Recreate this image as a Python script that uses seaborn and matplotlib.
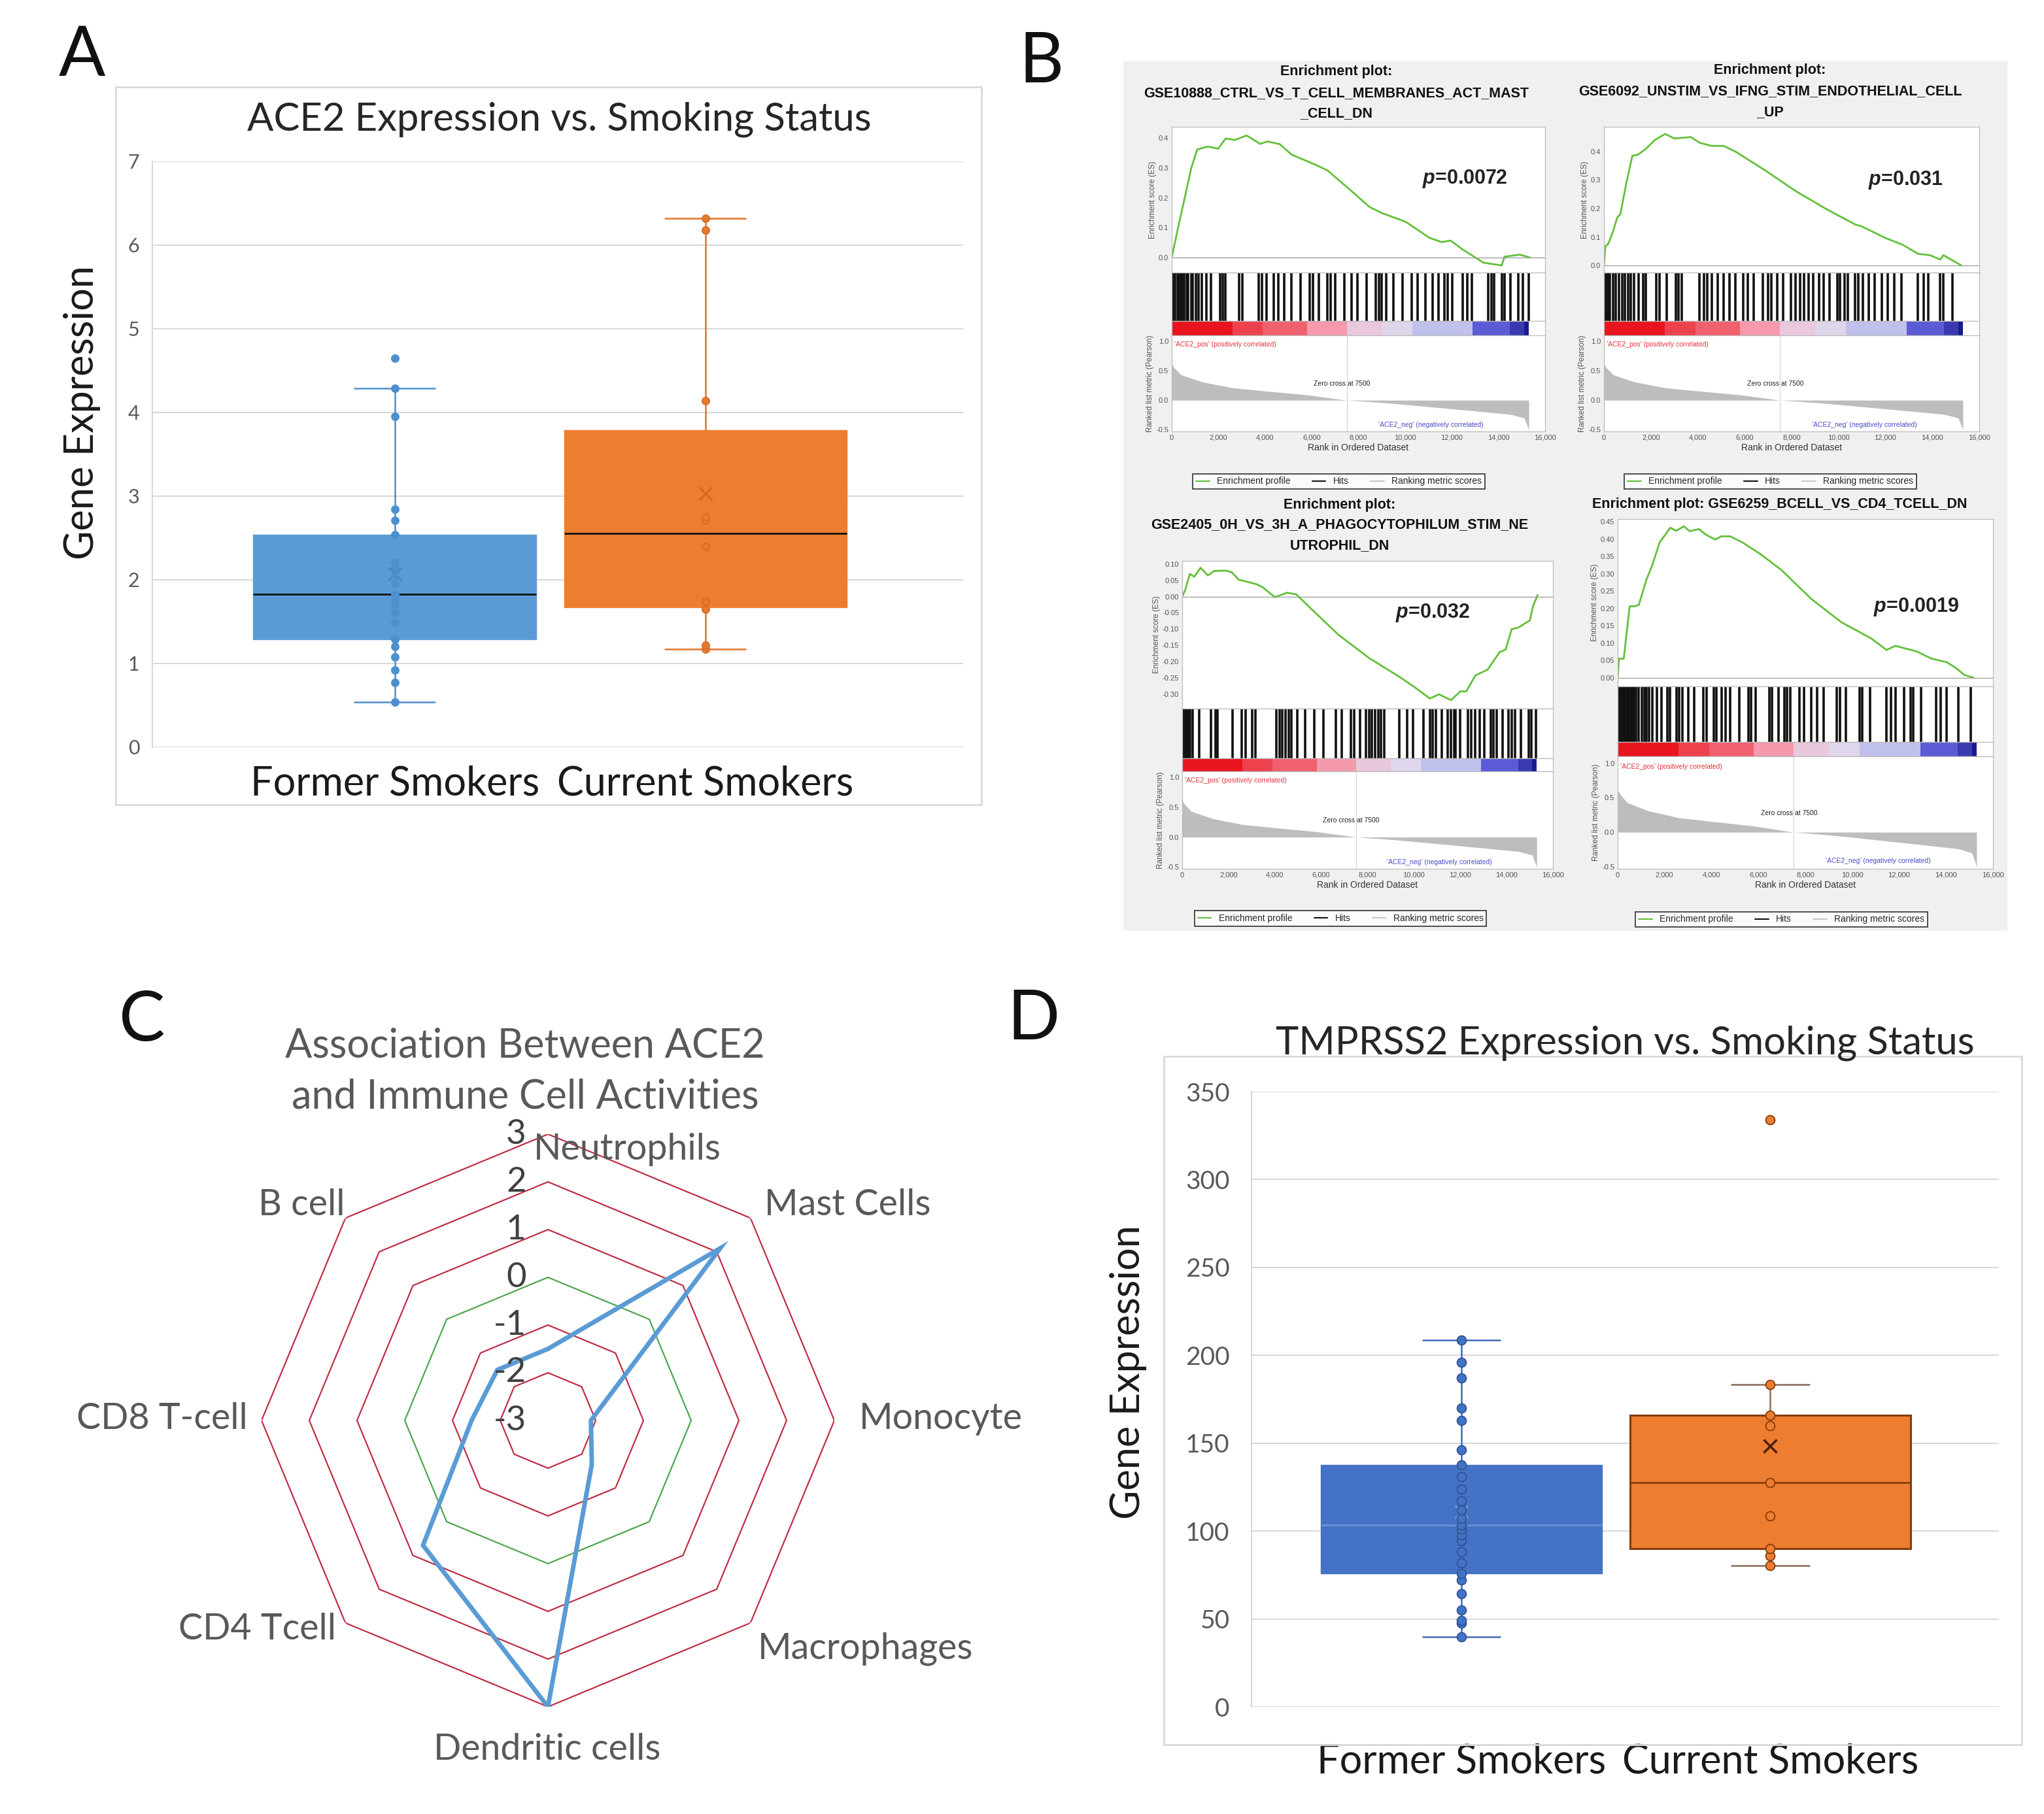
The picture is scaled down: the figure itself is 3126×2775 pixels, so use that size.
import numpy as np
import pandas as pd
import seaborn as sns
import matplotlib.pyplot as plt
from matplotlib.colors import LinearSegmentedColormap, TwoSlopeNorm
from matplotlib.lines import Line2D
from matplotlib.patches import Rectangle
from matplotlib.ticker import StrMethodFormatter

sns.set_theme(style="whitegrid")
plt.rcParams['font.family'] = ['Lato', 'DejaVu Sans']
plt.rcParams['mathtext.fontset'] = 'custom'
plt.rcParams['mathtext.it'] = 'Liberation Sans:italic:bold'
plt.rcParams['mathtext.rm'] = 'Liberation Sans:bold'
plt.rcParams['axes.unicode_minus'] = False

W, H = 3126, 2775

# ---------------- A / D : box plots
groups = ['Former Smokers', 'Current Smokers']
ace2_former = [0.54, 0.77, 0.92, 1.08, 1.2, 1.29, 1.49, 1.61, 1.7, 1.78, 1.83,
               1.95, 2.05, 2.15, 2.2, 2.54, 2.71, 2.84, 3.95, 4.29, 4.65]
ace2_current = [1.17, 1.22, 1.645, 1.74, 2.4, 2.71, 2.75, 4.14, 6.18, 6.32]
ace2_ticks = [0, 1, 2, 3, 4, 5, 6, 7]

tmprss2_former = [39.9, 47.6, 49, 55, 64.5, 72, 75.8, 82, 88, 94.6, 98, 101, 103.5,
                  107, 112, 117, 124, 131, 137.5, 146, 163, 170, 187, 196, 208.8]
tmprss2_current = [80.4, 86, 90, 108.7, 127.4, 160, 166, 183.3, 334]
tmprss2_ticks = [0, 50, 100, 150, 200, 250, 300, 350]

# ---------------- C : radar
cells = ['Neutrophils', 'Mast Cells', 'Monocyte', 'Macrophages',
         'Dendritic cells', 'CD4 Tcell', 'CD8 T-cell', 'B cell']
assoc = [-1.5, 2.1, -2.1, -1.7, 3.0, 0.7, -1.4, -1.5]
radar_levels = [3, 2, 1, 0, -1, -2, -3]

# ---------------- B : GSEA enrichment plots
rank_ticks = [0, 2000, 4000, 6000, 8000, 10000, 12000, 14000, 16000]
metric_rank = [0, 100, 400, 1300, 2600, 3900, 5800, 7500, 9000, 10300, 12900, 14500, 15100, 15300]
metric_val = [0.62, 0.55, 0.43, 0.31, 0.21, 0.16, 0.09, 0.0, -0.04, -0.085, -0.18, -0.24, -0.30, -0.50]
metric_ticks = [1.0, 0.5, 0.0, -0.5]

tl_rank = [0, 260, 510, 840, 1090, 1540, 1990, 2310, 2700, 3210, 3790, 4110, 4630, 5140, 6170,
           6680, 7710, 8480, 9000, 10020, 11050, 11570, 11950, 12470, 13360, 14140, 14260, 14910, 15360]
tl_es = [0, 0.096, 0.183, 0.30, 0.361, 0.371, 0.364, 0.398, 0.393, 0.408, 0.38, 0.388, 0.379, 0.344,
         0.31, 0.291, 0.222, 0.169, 0.149, 0.12, 0.066, 0.052, 0.057, 0.027, -0.017, -0.026, 0.003, 0.01, 0]
tl_hits = [60, 130, 260, 320, 380, 450, 520, 640, 700, 840, 900, 1030, 1150, 1290, 1480, 1670, 2060,
           2190, 2310, 2890, 3020, 3730, 3860, 4050, 4370, 4560, 4820, 5140, 5530, 5910, 6040, 6300,
           6680, 6810, 7000, 7390, 7710, 7970, 8350, 8740, 8870, 9000, 9190, 9510, 9900, 10280, 10540,
           10860, 11180, 11440, 11690, 11820, 12020, 12470, 12660, 12850, 13560, 13690, 13810, 14140,
           14260, 14520, 14840, 15040, 15290]
tl_ticks = [0.0, 0.1, 0.2, 0.3, 0.4]

tr_rank = [0, 60, 190, 380, 570, 700, 960, 1210, 1470, 1790, 2170, 2610, 3000, 3700, 4080, 4590,
           5100, 5610, 6890, 8160, 9440, 10710, 10970, 11990, 12750, 13390, 13900, 14340, 14470, 14920, 15240]
tr_es = [0, 0.067, 0.077, 0.118, 0.169, 0.18, 0.292, 0.385, 0.39, 0.41, 0.441, 0.462, 0.446, 0.451,
         0.431, 0.42, 0.42, 0.40, 0.333, 0.262, 0.20, 0.144, 0.138, 0.097, 0.072, 0.041, 0.036, 0.021,
         0.036, 0.015, 0]
tr_hits = [0, 60, 130, 190, 260, 380, 510, 640, 770, 890, 1020, 1150, 1280, 1470, 1660, 1790, 2230,
           2360, 2680, 3060, 3190, 3320, 4080, 4270, 4400, 4590, 4850, 5100, 5360, 5610, 5930, 6120,
           6380, 6760, 7010, 7140, 7400, 7650, 7970, 8160, 8350, 8540, 8730, 8930, 9180, 9370, 9630,
           9950, 10070, 10260, 10390, 10710, 10840, 11030, 11280, 11540, 11860, 12110, 12370, 12690,
           13390, 13640, 13830, 14340, 14470, 14850]
tr_ticks = [0.0, 0.1, 0.2, 0.3, 0.4]

bl_rank = [0, 130, 330, 520, 790, 1110, 1380, 1900, 2160, 2430, 2950, 3210, 3470, 4000, 4520, 4920,
           5440, 6750, 8060, 9370, 10030, 10690, 11080, 11600, 12000, 12260, 12650, 13180, 13700,
           13960, 14220, 14490, 15010, 15140, 15340]
bl_es = [0, 0.02, 0.07, 0.061, 0.089, 0.065, 0.079, 0.08, 0.074, 0.052, 0.043, 0.038, 0.029, -0.002,
         0.012, 0.007, -0.029, -0.118, -0.189, -0.247, -0.279, -0.314, -0.301, -0.319, -0.292, -0.292,
         -0.243, -0.225, -0.171, -0.163, -0.10, -0.096, -0.073, -0.029, 0.005]
bl_hits = [70, 130, 200, 260, 330, 460, 720, 1250, 1440, 1510, 2160, 2560, 2750, 3020, 3150, 4060,
           4200, 4330, 4460, 4590, 4720, 4980, 5310, 5700, 6100, 6620, 6880, 7280, 7410, 7670, 7930,
           8060, 8190, 8330, 8460, 8590, 8720, 9370, 9700, 9960, 10420, 10690, 10820, 10950, 11210,
           11470, 11600, 11730, 11800, 12000, 12320, 12460, 12650, 12850, 13050, 13310, 13440, 13570,
           13830, 14090, 14220, 14360, 14620, 14950, 15080, 15270]
bl_ticks = [0.10, 0.05, 0.0, -0.05, -0.10, -0.15, -0.20, -0.25, -0.30]

br_rank = [0, 60, 260, 510, 700, 900, 1220, 1470, 1790, 1980, 2240, 2500, 2820, 3070, 3460, 3780,
           4160, 4420, 4800, 5310, 6080, 6980, 8260, 9540, 10820, 11460, 11840, 12740, 13380, 14020,
           14400, 14780, 15170]
br_es = [0, 0.055, 0.055, 0.206, 0.206, 0.21, 0.282, 0.324, 0.391, 0.408, 0.433, 0.424, 0.437, 0.423,
         0.429, 0.412, 0.399, 0.408, 0.408, 0.391, 0.357, 0.311, 0.227, 0.16, 0.113, 0.08, 0.092, 0.076,
         0.055, 0.045, 0.029, 0.008, 0]
br_hits = [0, 60, 130, 190, 260, 320, 380, 450, 510, 580, 640, 700, 770, 900, 1020, 1150, 1220, 1340,
           1470, 1660, 1860, 2110, 2240, 2500, 2620, 2750, 3010, 3260, 3650, 3780, 4100, 4220, 4420,
           4610, 4800, 5180, 5570, 5700, 5890, 6460, 6590, 6850, 7100, 7230, 7360, 7740, 7940, 8260,
           8510, 8770, 9340, 9470, 9730, 10300, 10430, 10750, 11460, 11650, 11840, 12220, 12480,
           12610, 12930, 13570, 13760, 14020, 14530, 15040]
br_ticks = [0.0, 0.05, 0.10, 0.15, 0.20, 0.25, 0.30, 0.35, 0.40, 0.45]

verde = '#63c03a'
gsea_cmap = LinearSegmentedColormap.from_list(
    'gsea', ['#1a1a8c', '#5b5bd6', '#dcdcf2', '#f5b3c7', '#f0505f', '#e8141e'])
gsea_norm = TwoSlopeNorm(vmin=-0.3, vcenter=0, vmax=0.3)
arial = ['Liberation Sans', 'DejaVu Sans']


def ret(x0, y0, x1, y1):
    return [x0 / W, 1 - y1 / H, (x1 - x0) / W, (y1 - y0) / H]


def fig_txt(x, y, s, **kw):
    fig.text(x / W, 1 - y / H, s, **kw)


def caixa(ax, former, current, look, yticks, xlim):
    df = pd.DataFrame({'grupo': [groups[0]] * len(former) + [groups[1]] * len(current),
                       'valor': former + current})
    sns.boxplot(data=df, x='grupo', y='valor', hue='grupo', order=groups, hue_order=groups,
                palette=look['fill'], saturation=1, width=0.91, whis=1.5, showfliers=False,
                showmeans=True, legend=False, ax=ax,
                meanprops=dict(marker='x', markersize=14, markeredgewidth=2.5))
    for i, cont in enumerate(ax.containers):
        for b in cont.boxes:
            b.set_edgecolor(look['edge'][i])
            b.set_linewidth(look['edge_lw'][i])
        for w in cont.whiskers:
            w.set_color(look['whisker'][i])
            w.set_linewidth(1.8)
        for c in cont.caps:
            xd = c.get_xdata()
            m = (xd[0] + xd[1]) / 2
            c.set_xdata([m - look['cap'] / 2, m + look['cap'] / 2])
            c.set_color(look['whisker'][i])
            c.set_linewidth(1.8)
        for md in cont.medians:
            md.set_color(look['median'][i])
            md.set_linewidth(2)
        for mn in cont.means:
            mn.set_markeredgecolor(look['mean'][i])
            mn.set_markerfacecolor('none')
    for i in range(2):
        sub = df[df['grupo'] == groups[i]]
        sns.stripplot(data=sub, x='grupo', y='valor', order=groups, color=look['dot'][i],
                      edgecolor=look['dot_edge'][i], linewidth=1.3, size=look['dot_size'],
                      jitter=False, ax=ax, zorder=4)
    ax.set_xlim(*xlim)
    ax.set_ylim(yticks[0], yticks[-1])
    ax.set_yticks(yticks)
    ax.set_xlabel('')
    ax.set_ylabel('')
    ax.grid(axis='x', visible=False)
    ax.grid(axis='y', color='#d9d9d9', linewidth=1.5)
    for s in ['top', 'right', 'bottom']:
        ax.spines[s].set_visible(False)
    ax.spines['left'].set_color('#d9d9d9')
    ax.spines['left'].set_linewidth(1.5)
    ax.set_facecolor('white')


fig = plt.figure(figsize=(W / 100, H / 100), dpi=100)

# ======================= Panel A
axa = fig.add_axes(ret(233, 247, 1473, 1143))
look_a = dict(fill=['#5b9bd5', '#ed7d31'], edge=['#5b9bd5', '#ed7d31'], edge_lw=[1, 1],
              whisker=['#4f8fcc', '#e0722a'], median=['#111111', '#111111'],
              mean=['#4a86c5', '#d86c26'], dot=['#4d8fcf', '#e57a30'],
              dot_edge=['#4d8fcf', '#d86c26'], dot_size=8, cap=0.26)
caixa(axa, ace2_former, ace2_current, look_a, ace2_ticks, (-0.78, 1.83))
axa.tick_params(axis='y', labelsize=22, labelcolor='#595959', length=0, pad=14)
axa.tick_params(axis='x', labelsize=44, labelcolor='#1a1a1a', length=0, pad=20)
fig.add_artist(Rectangle((177 / W, 1 - 1231 / H), (1501 - 177) / W, (1231 - 133) / H,
                         transform=fig.transFigure, fill=False, edgecolor='#d9d9d9', lw=2))
fig_txt(855, 183, 'ACE2 Expression vs. Smoking Status', fontsize=43, color='#262626',
        ha='center', va='center')
fig_txt(126, 631, 'Gene Expression', fontsize=44, color='#1a1a1a', rotation=90,
        ha='center', va='center')

# ======================= Panel D
axd = fig.add_axes(ret(1914, 1670, 3057, 2611))
look_d = dict(fill=['#4472c4', '#ed7d31'], edge=['#4472c4', '#843c0c'], edge_lw=[1, 2.2],
              whisker=['#3f69b5', '#8a6a58'], median=['#6d8fd4', '#843c0c'],
              mean=['#6b8fd6', '#4a2008'], dot=['#4472c4', '#ed7d31'],
              dot_edge=['#2f5597', '#843c0c'], dot_size=10, cap=0.25)
caixa(axd, tmprss2_former, tmprss2_current, look_d, tmprss2_ticks, (-0.68, 1.74))
axd.tick_params(axis='y', labelsize=28, labelcolor='#595959', length=0, pad=24)
axd.tick_params(axis='x', labelsize=44, labelcolor='#1a1a1a', length=0, pad=40)
fig.add_artist(Rectangle((1780 / W, 1 - 2669 / H), (3092 - 1780) / W, (2669 - 1616) / H,
                         transform=fig.transFigure, fill=False, edgecolor='#d9d9d9', lw=2))
fig_txt(2485, 1596, 'TMPRSS2 Expression vs. Smoking Status', fontsize=43, color='#262626',
        ha='center', va='center')
fig_txt(1725, 2099, 'Gene Expression', fontsize=44, color='#1a1a1a', rotation=90,
        ha='center', va='center')

# ======================= Panel C (radar)
axc = fig.add_axes(ret(838 - 438, 2173 - 438, 838 + 438, 2173 + 438), projection='polar')
axc.set_facecolor('none')
axc.set_theta_offset(np.pi / 2)
axc.set_theta_direction(-1)
ang = np.linspace(0, 2 * np.pi, len(cells), endpoint=False)
ang_c = np.append(ang, ang[0])
axc.set_ylim(-3, 3)
axc.grid(False)
axc.spines['polar'].set_visible(False)
axc.set_xticks([])
axc.set_yticks([])
for lvl in radar_levels[:-1]:
    cor = '#4fa64f' if lvl == 0 else '#bf2f45'
    axc.plot(ang_c, [lvl] * len(ang_c), color=cor, lw=1.6, zorder=1)
axc.plot(ang_c, assoc + assoc[:1], color='#5b9bd5', lw=5, zorder=3, solid_joinstyle='miter')
for lvl in radar_levels:
    axc.annotate(str(lvl), xy=(0, lvl), xytext=(-24, 0), textcoords='offset points',
                 ha='right', va='center', fontsize=38, color='#404040', zorder=4)
# category label offsets from centre (pixels)
lab_off = [(121, -415), (458, -330), (601, -3), (486, 349), (-1, 504), (-445, 319),
           (-590, -3), (-377, -330)]
for nome, (dx, dy) in zip(cells, lab_off):
    axc.annotate(nome, xy=(0, -3), xytext=(dx * 0.72, -dy * 0.72), textcoords='offset points',
                 ha='center', va='center', fontsize=40, color='#595959',
                 annotation_clip=False)
fig_txt(803, 1600, 'Association Between ACE2', fontsize=44, color='#595959', ha='center', va='center')
fig_txt(803, 1678, 'and Immune Cell Activities', fontsize=44, color='#595959', ha='center', va='center')

# ======================= Panel B (GSEA)
fig.add_artist(Rectangle((1718 / W, 1 - 1424 / H), (3070 - 1718) / W, (1424 - 93) / H,
                         transform=fig.transFigure, facecolor='#f0f0f0', edgecolor='none', zorder=-1))

paineis = [
    dict(title=['Enrichment plot:', 'GSE10888_CTRL_VS_T_CELL_MEMBRANES_ACT_MAST', '_CELL_DN'],
         tx=2044, ty=[109, 143, 174], x=(1792, 2363), rows=(194, 417, 491, 513, 660),
         rank=tl_rank, es=tl_es, hits=tl_hits, ylim=(-0.05, 0.437), ticks=tl_ticks, fmt='{x:.1f}',
         p=r'$p$=0.0072', pxy=(12570, 0.263), leg=(0.447, -0.52)),
    dict(title=['Enrichment plot:', 'GSE6092_UNSTIM_VS_IFNG_STIM_ENDOTHELIAL_CELL', '_UP'],
         tx=2707, ty=[108, 140, 172], x=(2453, 3027), rows=(194, 417, 491, 513, 660),
         rank=tr_rank, es=tr_es, hits=tr_hits, ylim=(-0.025, 0.487), ticks=tr_ticks, fmt='{x:.1f}',
         p=r'$p$=0.031', pxy=(12850, 0.30), leg=(0.444, -0.52)),
    dict(title=['Enrichment plot:', 'GSE2405_0H_VS_3H_A_PHAGOCYTOPHILUM_STIM_NE', 'UTROPHIL_DN'],
         tx=2049, ty=[772, 803, 835], x=(1808, 2375), rows=(858, 1084, 1160, 1180, 1329),
         rank=bl_rank, es=bl_es, hits=bl_hits, ylim=(-0.345, 0.11), ticks=bl_ticks, fmt='{x:.2f}',
         p=r'$p$=0.032', pxy=(10815, -0.05), leg=(0.427, -0.51)),
    dict(title=['Enrichment plot: GSE6259_BCELL_VS_CD4_TCELL_DN'],
         tx=2722, ty=[771], x=(2474, 3048), rows=(794, 1050, 1135, 1157, 1329),
         rank=br_rank, es=br_es, hits=br_hits, ylim=(-0.025, 0.458), ticks=br_ticks, fmt='{x:.2f}',
         p=r'$p$=0.0019', pxy=(12736, 0.204), leg=(0.436, -0.45)),
]

for pn in paineis:
    x0, x1 = pn['x']
    r0, r1, r2, r3, r4 = pn['rows']
    for linha, yy in zip(pn['title'], pn['ty']):
        fig_txt(pn['tx'], yy, linha, fontsize=15.5, fontweight='bold', family=arial,
                color='#111111', ha='center', va='center')

    ax_es = fig.add_axes(ret(x0, r0, x1, r1))
    ax_es.plot(pn['rank'], pn['es'], color=verde, lw=2)
    ax_es.axhline(0, color='#9a9a9a', lw=0.9)
    ax_es.set_xlim(0, 16000)
    ax_es.set_ylim(*pn['ylim'])
    ax_es.set_yticks(pn['ticks'])
    ax_es.yaxis.set_major_formatter(StrMethodFormatter(pn['fmt']))
    ax_es.set_xticks([])
    ax_es.text(pn['pxy'][0], pn['pxy'][1], pn['p'], fontsize=22, fontweight='bold',
               family=arial, color='#222222', ha='center', va='center')
    ax_es.set_ylabel('Enrichment score (ES)', fontsize=8.5, color='#555555', family=arial,
                     labelpad=2)

    ax_hit = fig.add_axes(ret(x0, r1, x1, r2))
    ax_hit.vlines(pn['hits'], 0, 1, color='#111111', lw=2.6)
    ax_hit.set_xlim(0, 16000)
    ax_hit.set_ylim(0, 1)
    ax_hit.set_xticks([])
    ax_hit.set_yticks([])

    ax_heat = fig.add_axes(ret(x0, r2, x1, r3))
    ax_heat.pcolormesh(metric_rank, [0, 1], [metric_val[:-1]], cmap=gsea_cmap, norm=gsea_norm,
                       shading='flat')
    ax_heat.set_xlim(0, 16000)
    ax_heat.set_xticks([])
    ax_heat.set_yticks([])

    ax_rk = fig.add_axes(ret(x0, r3, x1, r4))
    ax_rk.fill_between(metric_rank, metric_val, 0, color='#bdbdbd', lw=0)
    ax_rk.axvline(7500, color='#d0d0d0', lw=0.8)
    ax_rk.set_xlim(0, 16000)
    ax_rk.set_ylim(-0.53, 1.1)
    ax_rk.set_yticks(metric_ticks)
    ax_rk.yaxis.set_major_formatter(StrMethodFormatter('{x:.1f}'))
    ax_rk.set_xticks(rank_ticks)
    ax_rk.set_xticklabels([f'{t:,}' for t in rank_ticks])
    ax_rk.text(120, 0.95, "'ACE2_pos' (positively correlated)", fontsize=7.5, color='#e8303a',
               family=arial, ha='left', va='center')
    ax_rk.text(7300, 0.28, 'Zero cross at 7500', fontsize=7.5, color='#222222',
               family=arial, ha='center', va='center')
    ax_rk.text(11100, -0.42, "'ACE2_neg' (negatively correlated)", fontsize=7.5, color='#4a4ac8',
               family=arial, ha='center', va='center')
    ax_rk.set_ylabel('Ranked list metric (Pearson)', fontsize=8.5, color='#555555', family=arial,
                     labelpad=2)
    ax_rk.set_xlabel('Rank in Ordered Dataset', fontsize=10, color='#333333', family=arial,
                     labelpad=2)
    hand = [Line2D([], [], color=verde, lw=1.5), Line2D([], [], color='#111111', lw=1.5),
            Line2D([], [], color='#c8c8c8', lw=1.5)]
    lg = ax_rk.legend(hand, ['Enrichment profile', 'Hits', 'Ranking metric scores'],
                      loc='center', bbox_to_anchor=pn['leg'], ncol=3, frameon=True,
                      fancybox=False, edgecolor='#222222', handlelength=1.5,
                      columnspacing=2.4, borderpad=0.35, prop={'family': arial, 'size': 10})
    lg.get_frame().set_linewidth(1.4)

    for a in [ax_es, ax_hit, ax_heat, ax_rk]:
        a.set_facecolor('white')
        a.grid(False)
        for s in a.spines.values():
            s.set_color('#bbbbbb')
            s.set_linewidth(0.9)
        a.tick_params(labelsize=8, labelcolor='#555555', length=2, width=0.6, pad=1.5,
                      color='#888888')
        for lb in a.get_xticklabels() + a.get_yticklabels():
            lb.set_family(arial)

# ======================= panel letters
for letra, (lx, ly) in zip(['A', 'B', 'C', 'D'], [(125, 86), (1592, 96), (217, 1562), (1580, 1560)]):
    fig_txt(lx, ly, letra, fontsize=76, color='#111111', ha='center', va='center')

fig.savefig('out.png', dpi=100)
